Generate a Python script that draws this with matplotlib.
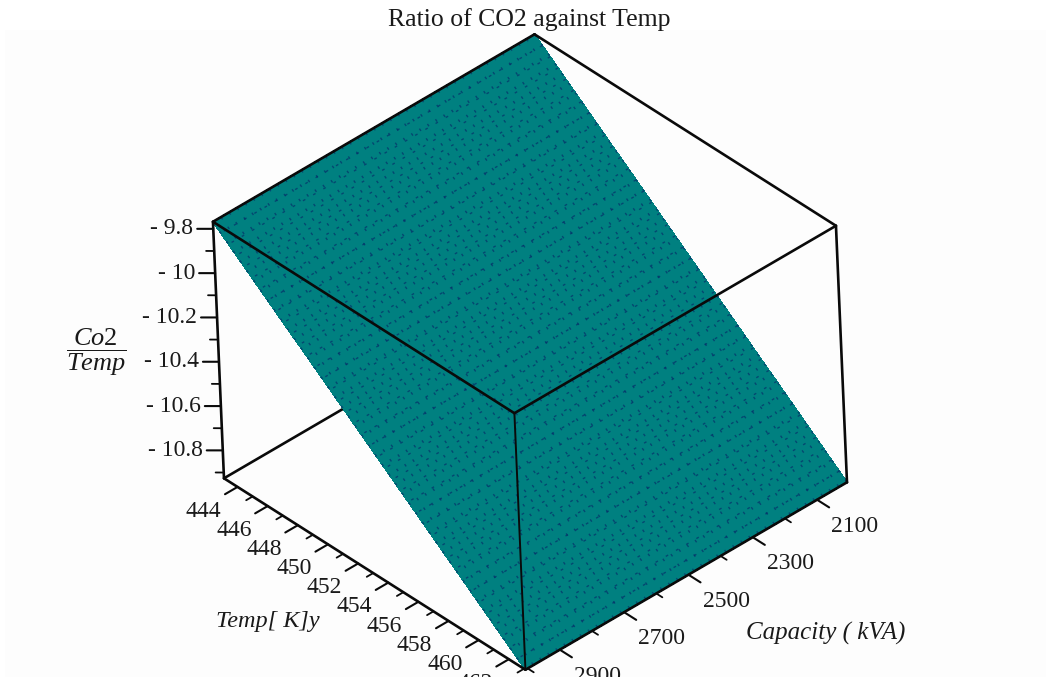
import numpy as np
import matplotlib
matplotlib.use("Agg")
import matplotlib.pyplot as plt
from matplotlib.patches import Rectangle

plt.rcParams['font.family'] = ['Liberation Serif', 'DejaVu Serif']
plt.rcParams['mathtext.fontset'] = 'custom'
plt.rcParams['mathtext.rm'] = 'Liberation Serif'
plt.rcParams['mathtext.it'] = 'Liberation Serif:italic'

# values
capacity = [2007, 2032, 2057, 2082, 2107, 2132, 2157, 2182, 2207, 2232, 2257, 2282, 2307, 2332,
            2357, 2382, 2407, 2432, 2457, 2482, 2507, 2532, 2557, 2582, 2607, 2632, 2657, 2682,
            2707, 2732, 2757, 2782, 2807, 2832, 2857, 2882, 2907, 2932, 2957, 2982, 3007]
temp = [443.1, 443.6, 444.1, 444.6, 445.1, 445.6, 446.1, 446.6, 447.1, 447.6, 448.1, 448.6,
        449.1, 449.6, 450.1, 450.6, 451.1, 451.6, 452.1, 452.6, 453.1, 453.6, 454.1, 454.6,
        455.1, 455.6, 456.1, 456.6, 457.1, 457.6, 458.1, 458.6, 459.1, 459.6, 460.1, 460.6,
        461.1, 461.6, 462.1, 462.6, 463.1]
ratio = [-9.768, -9.797, -9.826, -9.855, -9.884, -9.913, -9.942, -9.971, -10.000, -10.029,
         -10.058, -10.086, -10.115, -10.144, -10.173, -10.202, -10.231, -10.260, -10.289,
         -10.318, -10.347, -10.376, -10.405, -10.434, -10.463, -10.492, -10.521, -10.550,
         -10.579, -10.608, -10.637, -10.665, -10.694, -10.723, -10.752, -10.781, -10.810,
         -10.839, -10.868, -10.897, -10.926]

capacity_ticks = [2100, 2300, 2500, 2700, 2900]
capacity_minor = [2200, 2400, 2600, 2800, 3000]
temp_ticks = [444, 446, 448, 450, 452, 454, 456, 458, 460, 462]
temp_minor = [445, 447, 449, 451, 453, 455, 457, 459, 461, 463]
ratio_ticks = [-9.8, -10.0, -10.2, -10.4, -10.6, -10.8]
ratio_minor = [-9.9, -10.1, -10.3, -10.5, -10.7, -10.9]
ratio_labels = ['- 9.8', '- 10', '- 10.2', '- 10.4', '- 10.6', '- 10.8']

BLACK = '#0a0a0a'
TEXT = '#1a1a1a'
TEAL = '#008080'

fig = plt.figure(figsize=(10.46, 6.77), dpi=100, facecolor='white')
fig.add_artist(Rectangle((5 / 1046, 0), 1041 / 1046, 647 / 677, transform=fig.transFigure,
                         facecolor='#fdfdfd', edgecolor='none', zorder=-5))

ax = fig.add_axes([179.6 / 1046, -25.4 / 677, 682.3 / 1046, 682.3 / 677],
                  projection='3d', computed_zorder=False)
ax.set_proj_type('ortho')
ax.view_init(elev=37.3, azim=49.0, roll=2.46)
ax.set_box_aspect((1.3517, 1.3833, 1))
x0, x1 = capacity[0], capacity[-1]
y0, y1 = temp[0], temp[-1]
z0, z1 = ratio[-1], ratio[0]
ax.set_xlim(x0, x1)
ax.set_ylim(y0, y1)
ax.set_zlim(z0, z1)
ax.set_axis_off()
ax.patch.set_alpha(0)


def seg(p, q, lw=1.9, zorder=5):
    ax.plot([p[0], q[0]], [p[1], q[1]], [p[2], q[2]], color=BLACK, lw=lw, zorder=zorder,
            solid_capstyle='round', clip_on=False)


# edges behind the surface
seg((x1, y0, z0), (x0, y0, z0), zorder=1)
seg((x0, y0, z0), (x0, y1, z0), zorder=1)
seg((x0, y0, z0), (x0, y0, z1), zorder=1)

# the surface
X, Y = np.meshgrid(capacity, temp)
Z = np.tile(np.array(ratio).reshape(-1, 1), (1, len(capacity)))
ax.plot_surface(X, Y, Z, color=TEAL, shade=False, rstride=1, cstride=1, linewidth=0.4,
                edgecolor=TEAL, antialiased=False, zorder=2)
ax.plot_wireframe(X, Y, Z, color='#07306a', linewidth=1.0, linestyle=(0, (2, 6.5)), alpha=0.7,
                  rstride=1, cstride=1, zorder=3)

# edges in front of it
seg((x1, y0, z1), (x0, y0, z1))
seg((x0, y0, z1), (x0, y1, z1))
seg((x0, y1, z1), (x1, y1, z1))
seg((x1, y1, z1), (x1, y0, z1))
seg((x1, y0, z0), (x1, y0, z1))
seg((x0, y1, z0), (x0, y1, z1))
seg((x1, y1, z0), (x1, y1, z1), lw=1.4)
seg((x1, y0, z0), (x1, y1, z0))
seg((x1, y1, z0), (x0, y1, z0))

# ticks and tick labels
for t in temp_ticks:
    seg((x1, t, z0), (x1 + 39, t, z0), lw=1.5)
for t in temp_minor:
    seg((x1, t, z0), (x1 + 20, t, z0), lw=1.3)
for t in temp_ticks:
    ax.text(x1 + 106, t, z0 - 0.02, str(t), fontsize=17, color=TEXT, ha='center', va='center')

for c in capacity_ticks:
    seg((c, y1, z0), (c, y1 + 0.8, z0), lw=1.5)
for c in capacity_minor:
    seg((c, y1, z0), (c, y1 + 0.4, z0), lw=1.3)
for c in capacity_ticks:
    ax.text(c, y1 + 2.5, z0 - 0.012, str(c), fontsize=17, color=TEXT, ha='center', va='center')

for v, lab in zip(ratio_ticks, ratio_labels):
    seg((x1, y0, v), (x1 + 26, y0 - 0.51, v), lw=1.5)
    ax.text(x1 + 33, y0 - 0.64, v, lab, fontsize=17, color=TEXT, ha='right', va='center')
for v in ratio_minor:
    seg((x1, y0, v), (x1 + 13, y0 - 0.26, v), lw=1.3)

fig.text(529 / 1046, 1 - 20 / 677, 'Ratio of CO2 against Temp', fontsize=18.5, color=TEXT,
         ha='center', va='center')
fig.text(268 / 1046, 1 - 621 / 677, 'Temp[ K]y', fontsize=17.5, style='italic', color=TEXT,
         ha='center', va='center')
fig.text(826 / 1046, 1 - 633 / 677, 'Capacity ( kVA)', fontsize=18, style='italic', color=TEXT,
         ha='center', va='center')
fig.text(96 / 1046, 1 - 352 / 677, r'$\dfrac{Co2}{Temp}$', fontsize=19, color=TEXT,
         ha='center', va='center')

fig.savefig('out.png', dpi=100)
